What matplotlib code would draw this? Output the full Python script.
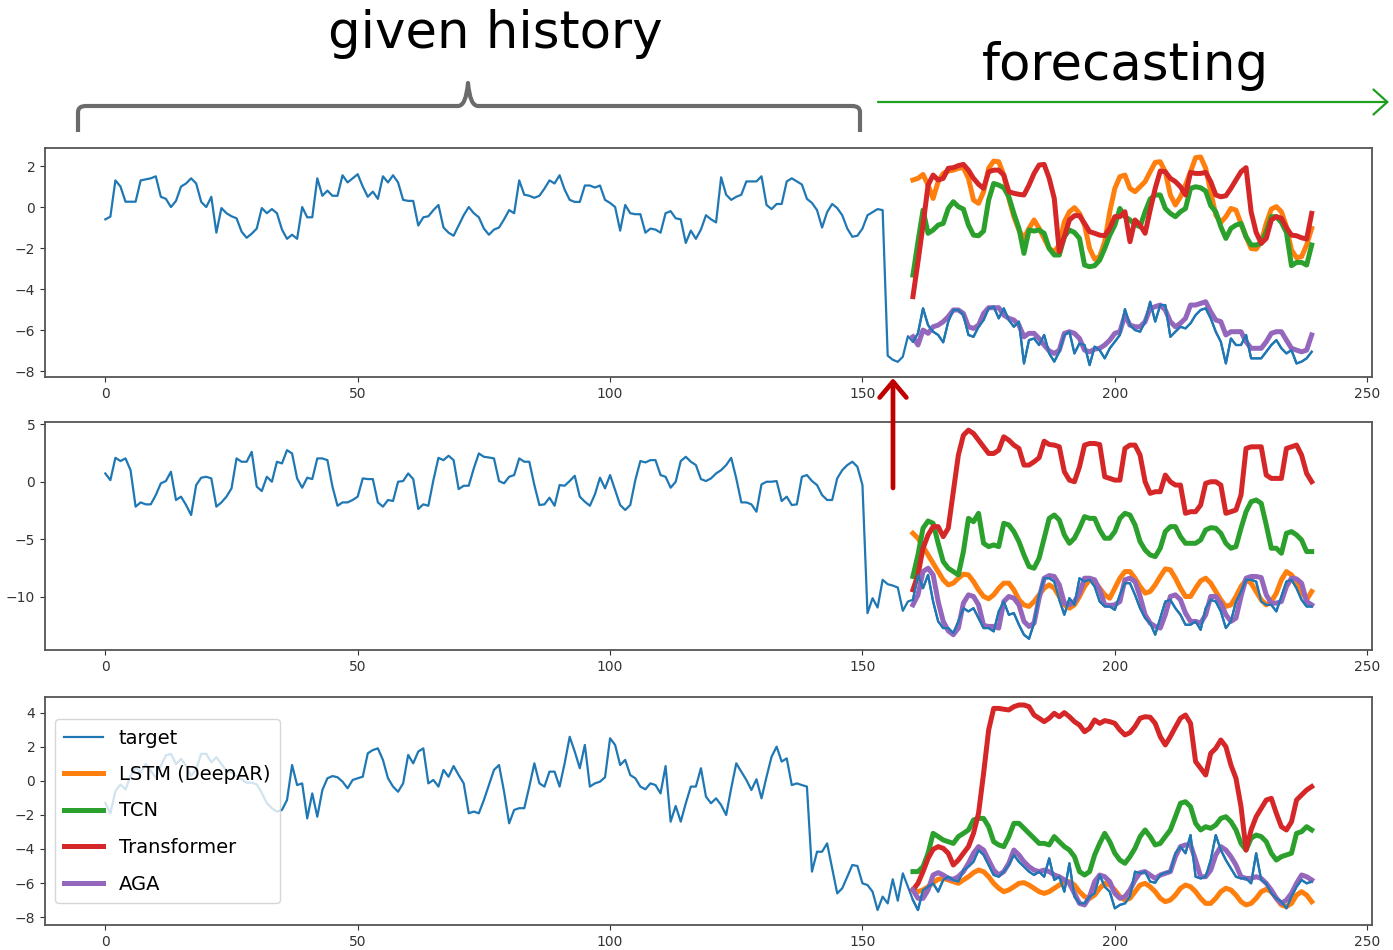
import numpy as np
import matplotlib
matplotlib.use("Agg")
import matplotlib.pyplot as plt
from matplotlib.path import Path
from matplotlib.patches import PathPatch

# ---------------- data ----------------
hist_x = np.arange(0, 240)
fc_x = np.arange(160, 240)

# Panel 1
target1 = [
    -0.6, -0.47, 1.3, 1.0, 0.26, 0.26, 0.26, 1.3, 1.35, 1.4, 1.5, 0.5, 0.4, 0.0, 0.3, 1.0, 1.15, 1.4, 1.15, 0.25,
    0.0, 0.5, -1.25, -0.05, -0.3, -0.45, -0.55, -1.2, -1.5, -1.3, -1.05, -0.05, -0.3, -0.1, -0.3, -1.1, -1.55, -1.35, -1.55, 0.0,
    -0.5, -0.5, 1.4, 0.55, 0.8, 0.55, 0.55, 1.55, 1.2, 1.4, 1.6, 1.0, 0.5, 0.75, 0.4, 1.5, 1.2, 1.55, 1.2, 0.35,
    0.3, 0.3, -0.9, -0.5, -0.45, -0.15, 0.1, -1.0, -1.25, -1.4, -0.9, -0.4, 0.0, -0.3, -0.5, -1.05, -1.35, -1.1, -1.0, -0.6,
    -0.15, -0.3, 1.3, 0.6, 0.55, 0.45, 0.55, 0.9, 1.3, 1.15, 1.55, 0.85, 0.35, 0.25, 0.25, 1.05, 1.05, 0.95, 1.05, 0.35,
    0.2, 0.0, -1.15, 0.1, -0.3, -0.35, -0.35, -1.25, -1.05, -1.1, -1.25, -0.3, -0.2, -0.55, -0.6, -1.75, -1.15, -1.55, -1.1, -0.4,
    -0.6, -0.75, 1.45, 0.6, 0.35, 0.5, 0.6, 1.25, 1.25, 1.25, 1.5, 0.1, -0.1, 0.15, 0.15, 1.25, 1.4, 1.25, 1.1, 0.4,
    0.2, -0.15, -1.0, -0.25, 0.15, -0.05, -0.4, -1.05, -1.45, -1.4, -1.05, -0.4, -0.25, -0.1, -0.15, -7.25, -7.45, -7.55, -7.3, -6.3,
    -6.57, -6.16, -4.94, -5.76, -6.08, -6.24, -6.6, -5.59, -5.02, -5.02, -5.27, -6.24, -6.33, -5.84, -5.51, -4.94, -4.86, -5.43, -4.94, -5.51,
    -5.84, -5.59, -7.63, -6.49, -6.41, -6.73, -6.24, -7.14, -7.54, -7.06, -6.24, -6.08, -7.14, -6.65, -6.73, -7.71, -6.81, -6.98, -7.38, -6.89,
    -6.57, -6.24, -4.98, -5.76, -6.0, -6.08, -5.59, -4.62, -5.59, -4.78, -4.78, -6.33, -6.08, -5.84, -5.92, -5.67, -5.27, -5.02, -4.94, -5.43,
    -6.08, -6.57, -7.63, -6.41, -6.73, -6.73, -6.24, -7.38, -7.38, -7.38, -7.06, -6.73, -6.49, -6.89, -7.14, -6.98, -7.63, -7.54, -7.38, -7.06,
]
lstm1 = [
    1.32, 1.40, 1.59, 1.07, 0.42, 1.24, 1.64, 1.76, 1.80, 1.89, 1.92, 1.40, 0.34, 0.18, 0.75, 1.89, 2.24, 2.21, 1.56, 0.42,
    -0.47, -1.12, -1.53, -1.04, -0.63, -1.04, -1.53, -2.02, -2.18, -1.85, -0.72, -0.23, -0.03, -0.31, -0.88, -2.02, -2.54, -2.42, -1.69, -0.23,
    0.91, 1.48, 1.56, 0.91, 0.75, 0.99, 1.24, 1.72, 2.18, 2.21, 1.72, 0.59, 0.10, 0.50, 1.07, 1.72, 2.41, 2.44, 1.89, 0.75,
    -0.39, -0.75, -0.47, -0.07, -0.15, -0.80, -1.45, -2.02, -2.05, -1.69, -0.80, -0.10, 0.02, -0.23, -0.96, -2.10, -2.47, -2.42, -1.85, -1.04,
]
tcn1 = [
    -3.32, -1.69, -0.15, -1.28, -1.12, -0.88, -0.80, -0.07, 0.26, 0.02, -0.10, -0.88, -1.37, -1.40, -1.17, 0.34, 1.15, 1.07, 0.94, 0.50,
    -0.31, -1.04, -2.26, -1.12, -1.17, -1.12, -1.28, -2.02, -2.34, -2.34, -1.45, -1.12, -1.24, -1.53, -2.83, -2.91, -2.86, -2.59, -2.02, -1.37,
    -0.88, -0.07, -0.47, -0.63, -0.85, -0.96, -0.23, 0.39, 0.59, 0.59, -0.07, -0.31, -0.47, -0.23, -0.07, 0.91, 0.99, 0.94, 0.78, 0.07,
    -0.23, -0.96, -1.53, -1.04, -0.88, -0.80, -1.45, -1.85, -1.85, -1.77, -1.20, -0.47, -0.47, -0.75, -1.24, -2.86, -2.70, -2.70, -2.83, -1.85,
]
trans1 = [
    -4.37, -2.67, -0.88, 1.07, 1.56, 1.32, 1.40, 1.89, 1.92, 2.02, 2.08, 1.80, 1.40, 1.11, 0.91, 1.72, 1.80, 1.80, 1.56, 0.75,
    0.67, 0.62, 0.59, 1.07, 1.64, 2.05, 2.08, 1.40, 0.42, -2.18, -1.45, -0.63, -0.42, -0.42, -0.80, -1.20, -1.28, -1.37, -1.40, -1.04,
    -0.47, -0.47, -0.23, -1.69, -0.63, -0.88, -1.28, -0.15, 0.91, 1.76, 1.72, 1.40, 1.24, 0.99, 0.59, 1.69, 1.64, 1.64, 1.69, 1.24,
    0.59, 0.50, 0.55, 0.91, 1.32, 1.72, 1.92, -0.23, -1.24, -1.77, -1.53, -0.63, -0.47, -0.55, -1.01, -1.37, -1.40, -1.50, -1.56, -0.31,
]
aga1 = [
    -6.33, -6.73, -6.0, -6.16, -5.84, -5.76, -5.59, -5.35, -5.02, -5.02, -5.19, -5.84, -5.92, -5.76, -5.19, -4.91, -4.91, -4.91, -5.27, -5.43,
    -5.51, -5.76, -6.33, -6.16, -6.16, -6.41, -6.73, -7.02, -7.14, -6.98, -6.16, -6.08, -6.16, -6.41, -6.98, -7.06, -6.93, -6.89, -6.73, -6.49,
    -6.16, -6.08, -5.27, -5.76, -5.84, -5.84, -5.59, -4.94, -4.86, -4.78, -5.02, -5.59, -5.84, -5.67, -5.43, -4.78, -4.78, -4.70, -4.62, -5.11,
    -5.51, -5.59, -6.24, -6.08, -6.08, -6.08, -6.57, -6.89, -6.89, -6.89, -6.57, -6.16, -6.08, -6.08, -6.49, -6.89, -6.98, -7.06, -6.98, -6.24,
]

# Panel 2
target2 = [
    0.72, 0.14, 2.08, 1.8, 2.03, 1.0, -2.17, -1.8, -1.97, -1.97, -1.16, -0.14, 0.06, 0.87, -1.59, -1.3, -2.03, -2.9, -0.29, 0.35,
    0.43, 0.29, -2.17, -1.8, -1.3, -0.58, 2.03, 1.74, 1.74, 2.6, -0.43, -0.81, 0.43, 0.0, 1.74, 1.59, 2.75, 2.46, 0.29, -0.52,
    0.35, 0.23, 2.03, 2.03, 1.88, -0.43, -2.09, -1.8, -1.8, -1.59, -1.3, 0.29, 0.23, 0.23, -1.8, -2.17, -1.59, -1.68, 0.0, 0.06,
    0.72, 0.23, -2.37, -1.97, -2.09, 0.14, 2.08, 1.88, 2.26, 1.88, -0.64, -0.35, -0.35, 1.16, 2.46, 2.17, 2.11, 2.03, 0.06, -0.14,
    0.43, 0.58, 2.03, 1.74, 1.74, -0.29, -2.03, -1.97, -1.39, -2.09, -0.29, -0.35, 0.06, 0.52, -1.3, -1.74, -2.09, -1.1, 0.35, -0.58,
    0.58, -0.72, -2.03, -2.46, -2.03, 0.14, 1.8, 1.68, 1.88, 1.88, 0.58, 0.43, -0.52, 0.0, 1.8, 2.17, 1.74, 1.45, 0.23, 0.06,
    0.29, 0.72, 1.01, 1.45, 2.08, 0.29, -1.8, -1.8, -1.97, -2.61, -0.23, 0.0, 0.0, 0.06, -1.68, -1.3, -2.03, -1.97, 0.43, 0.58,
    0.06, -0.29, -1.16, -1.59, -1.59, 0.29, 1.01, 1.45, 1.74, 1.3, -0.29, -11.44, -10.14, -10.95, -8.54, -8.92, -9.04, -9.21, -11.24, -10.43,
    -10.28, -8.11, -9.27, -8.11, -10.43, -12.16, -12.74, -12.74, -13.18, -12.16, -11.01, -11.29, -11.01, -11.87, -12.74, -12.74, -13.03, -11.29, -10.43, -11.58,
    -11.44, -12.45, -13.32, -13.67, -12.31, -9.85, -8.40, -8.40, -8.69, -10.28, -11.58, -10.14, -10.72, -8.40, -8.69, -8.54, -9.12, -10.43, -10.86, -10.86,
    -11.15, -9.85, -8.83, -8.83, -9.85, -11.01, -11.87, -12.31, -13.32, -11.87, -10.43, -10.28, -11.01, -11.58, -12.45, -12.45, -12.16, -12.89, -11.01, -10.28,
    -10.43, -11.29, -12.74, -12.16, -10.43, -9.56, -8.54, -8.54, -8.69, -10.43, -10.72, -10.72, -11.29, -9.99, -8.69, -8.54, -9.27, -10.28, -10.86, -10.86,
]
lstm2 = [
    -4.49, -4.92, -5.65, -6.37, -7.10, -7.82, -8.54, -8.98, -8.83, -8.40, -8.05, -8.11, -8.69, -9.41, -9.99, -10.19, -9.85, -9.27, -8.83, -8.83,
    -9.41, -10.28, -10.72, -10.86, -10.43, -9.85, -9.27, -8.98, -9.27, -9.99, -10.72, -11.01, -10.72, -9.99, -9.12, -8.54, -8.69, -9.27, -9.85, -10.14,
    -9.27, -8.40, -7.82, -7.82, -8.40, -9.12, -9.70, -9.56, -8.98, -8.25, -7.59, -7.67, -8.40, -9.27, -9.99, -9.99, -9.27, -8.63, -8.40, -8.83,
    -9.56, -10.28, -10.86, -10.72, -9.99, -9.12, -8.54, -8.83, -9.56, -10.28, -10.72, -10.43, -9.70, -8.54, -7.82, -8.11, -8.69, -9.56, -10.28, -9.56,
]
tcn2 = [
    -8.25, -6.37, -4.05, -3.42, -3.62, -5.36, -6.95, -7.53, -7.82, -8.11, -6.08, -3.19, -3.48, -2.75, -5.36, -5.65, -5.50, -5.65, -3.62, -3.76,
    -4.34, -5.21, -6.37, -7.38, -7.53, -6.66, -4.92, -3.19, -2.90, -3.33, -4.63, -5.36, -4.92, -4.05, -3.04, -3.19, -3.19, -4.20, -4.92, -4.92,
    -4.34, -3.19, -2.75, -2.90, -3.76, -5.21, -5.94, -6.37, -6.52, -5.79, -4.34, -3.91, -3.91, -4.78, -5.36, -5.36, -5.36, -5.07, -4.20, -4.00,
    -4.05, -4.49, -5.36, -5.79, -5.65, -4.05, -2.61, -1.74, -1.59, -1.88, -3.76, -5.79, -5.79, -6.23, -4.49, -4.34, -4.63, -5.07, -6.08, -6.08,
]
trans2 = [
    -9.41, -8.11, -5.79, -4.63, -3.91, -3.91, -4.78, -4.05, -0.87, 2.32, 4.05, 4.49, 4.20, 3.62, 3.04, 2.46, 2.46, 2.75, 3.91, 3.62,
    3.19, 2.90, 1.45, 1.45, 1.74, 2.09, 3.53, 3.24, 3.19, 3.04, 0.87, 0.14, 0.0, 1.30, 3.19, 3.33, 3.33, 3.24, 0.43, 0.29,
    0.14, 0.14, 2.90, 3.19, 3.19, 2.32, 0.0, -1.01, -0.87, -0.87, 0.58, 0.0, -0.29, -0.29, -2.75, -2.61, -2.61, -2.03, -0.14, 0.0,
    0.0, -0.29, -2.75, -2.61, -2.46, -1.16, 2.90, 3.04, 3.04, 3.04, 0.58, 0.29, 0.29, 0.29, 2.90, 3.04, 3.19, 2.32, 0.72, 0.0,
]
aga2 = [
    -10.72, -9.85, -7.82, -7.53, -8.11, -10.43, -12.16, -12.98, -13.32, -12.74, -10.57, -9.85, -9.99, -10.72, -12.51, -12.60, -12.60, -12.74, -10.43, -9.99,
    -10.14, -10.72, -12.16, -12.60, -12.31, -10.14, -8.40, -8.17, -8.25, -8.98, -10.57, -10.72, -10.43, -9.70, -8.40, -8.40, -8.54, -9.41, -10.72, -10.77,
    -10.72, -10.43, -8.54, -8.40, -8.69, -9.99, -11.58, -12.31, -12.60, -12.74, -11.58, -9.99, -9.85, -10.28, -11.44, -12.16, -12.16, -12.31, -11.58, -9.99,
    -9.99, -10.57, -11.58, -12.16, -11.87, -9.99, -8.40, -8.25, -8.25, -8.34, -9.85, -10.57, -10.57, -10.43, -9.12, -8.40, -8.46, -8.83, -10.43, -10.72,
]

# Panel 3
target3 = [
    -1.3, -1.9, -0.6, -0.2, -0.5, 0.3, 0.8, 0.5, 1.0, 0.6, 0.2, 0.9, 1.5, 1.6, 1.0, 1.3, 0.9, 0.3, 0.7, 1.6,
    1.6, 1.1, 1.4, 1.0, 0.6, 0.5, 0.3, 0.1, -0.1, -0.1, -0.2, -0.7, -1.3, -1.6, -1.8, -1.7, -1.12, 0.94, -0.24, -0.14,
    -2.2, -0.73, -2.1, -0.53, 0.16, 0.29, 0.22, -0.04, -0.43, 0.06, 0.16, 0.25, 1.63, 1.82, 1.92, 1.24, 0.16, -0.33, -0.63, -0.14,
    1.53, 1.04, 1.73, 1.92, -0.14, 0.06, -0.33, 0.65, 0.25, 0.88, 0.35, -0.14, -1.9, -1.8, -1.9, -1.12, -0.24, 0.65, 0.94, -0.63,
    -2.49, -1.7, -1.6, -1.6, -0.33, 1.04, -0.14, -0.33, 0.55, 0.55, -0.33, 1.04, 2.6, 1.73, 0.75, 2.12, -0.33, -0.14, -0.04, 0.22,
    2.51, 2.12, 0.94, 1.24, 0.35, 0.16, -0.33, -0.49, -0.14, -0.24, -0.73, 0.88, -2.39, -1.47, -2.39, -1.31, -0.33, -0.33, 0.75, -0.92,
    -1.31, -1.02, -1.41, -2.0, -0.43, 1.04, 0.55, 0.06, -0.53, 0.1, -1.02, 0.25, 1.43, 2.02, 1.14, 1.33, -0.24, -0.14, -0.24, -0.33,
    -5.33, -4.16, -4.16, -3.67, -5.14, -6.61, -6.31, -5.63, -4.94, -5.0, -6.02, -6.12, -6.51, -7.59, -6.8, -7.2, -5.78, -7.04, -5.43, -6.22,
    -7.00, -7.59, -6.41, -6.22, -6.02, -6.51, -5.82, -5.63, -5.82, -5.92, -5.24, -5.04, -4.75, -4.06, -4.35, -4.94, -5.53, -5.63, -5.33, -4.94,
    -4.35, -4.75, -5.04, -5.33, -5.53, -5.33, -5.63, -4.55, -5.82, -5.63, -6.51, -4.84, -6.80, -7.20, -7.20, -6.80, -6.61, -5.53, -6.22, -6.51,
    -7.49, -7.29, -7.20, -6.80, -5.33, -5.43, -5.33, -5.92, -5.98, -5.53, -5.39, -5.33, -4.25, -3.86, -4.25, -3.18, -5.63, -5.73, -5.63, -4.65,
    -3.18, -4.06, -4.65, -5.14, -5.63, -5.73, -5.73, -6.02, -4.25, -5.82, -6.02, -6.61, -6.90, -7.10, -7.49, -6.80, -6.22, -5.82, -6.02, -5.92,
]
lstm3 = [
    -6.41, -6.51, -6.41, -6.22, -5.98, -5.78, -5.73, -5.82, -5.92, -6.02, -5.82, -5.63, -5.39, -5.24, -5.33, -5.63, -6.02, -6.31, -6.51, -6.41,
    -6.22, -6.02, -5.98, -6.12, -6.31, -6.51, -6.61, -6.51, -6.31, -6.12, -5.92, -5.92, -6.12, -6.51, -6.80, -6.90, -6.71, -6.31, -6.02, -6.12,
    -6.41, -6.80, -7.00, -6.90, -6.51, -6.12, -6.02, -6.22, -6.51, -6.90, -7.10, -7.00, -6.71, -6.31, -6.12, -6.22, -6.51, -6.90, -7.20, -7.20,
    -6.90, -6.51, -6.31, -6.41, -6.71, -7.10, -7.29, -7.20, -6.90, -6.51, -6.37, -6.51, -6.90, -7.29, -7.39, -7.20, -6.71, -6.51, -6.71, -7.10,
]
tcn3 = [
    -5.33, -5.33, -5.04, -4.25, -3.08, -3.27, -3.47, -3.57, -3.67, -3.27, -3.08, -2.88, -2.29, -2.20, -2.20, -2.69, -3.57, -3.76, -3.86, -3.27,
    -2.49, -2.49, -2.78, -3.08, -3.37, -3.67, -3.67, -3.76, -3.27, -3.57, -3.86, -4.06, -4.45, -5.33, -5.53, -5.33, -4.35, -3.67, -3.08, -3.57,
    -4.25, -4.65, -4.84, -4.45, -3.96, -3.27, -2.88, -3.27, -3.76, -3.67, -3.27, -2.88, -2.10, -1.31, -1.22, -1.51, -2.49, -2.88, -2.69, -2.78,
    -2.59, -2.20, -2.10, -2.39, -2.88, -3.67, -4.06, -3.37, -3.18, -3.27, -3.57, -4.25, -4.65, -4.45, -4.35, -4.25, -3.08, -2.98, -2.69, -2.88,
]
trans3 = [
    -6.41, -6.02, -5.33, -4.55, -4.02, -3.86, -3.96, -4.25, -4.94, -4.65, -4.25, -3.86, -3.08, -1.90, 0.45, 3.0, 4.27, 4.27, 4.22, 4.18,
    4.37, 4.47, 4.47, 4.37, 3.88, 3.69, 3.49, 3.69, 3.98, 3.78, 4.02, 3.78, 3.49, 3.29, 2.90, 3.10, 3.59, 3.39, 3.55, 3.49,
    3.39, 3.0, 2.71, 2.84, 3.20, 3.69, 3.78, 3.75, 3.39, 2.61, 2.12, 2.61, 3.16, 3.69, 3.88, 3.39, 1.14, 0.75, 0.35, 1.63,
    1.92, 2.41, 2.02, 0.94, 0.16, -1.51, -4.06, -2.88, -2.10, -1.61, -1.12, -1.02, -1.90, -2.69, -2.88, -2.40, -1.12, -0.82, -0.53, -0.33,
]
aga3 = [
    -6.41, -6.90, -6.90, -6.41, -5.53, -5.39, -5.53, -5.73, -5.78, -5.63, -5.33, -4.84, -4.25, -3.86, -4.06, -4.65, -5.24, -5.53, -5.33, -4.84,
    -4.06, -4.35, -4.75, -5.04, -5.24, -5.33, -5.24, -5.33, -5.53, -5.63, -5.82, -6.02, -6.61, -7.20, -7.29, -6.80, -5.92, -5.53, -5.63, -5.92,
    -6.61, -6.90, -6.80, -6.41, -5.82, -5.39, -5.33, -5.53, -5.73, -5.53, -5.43, -5.33, -4.45, -3.86, -3.76, -3.76, -4.65, -5.63, -5.63, -5.24,
    -4.35, -3.86, -4.06, -4.45, -4.94, -5.63, -5.73, -5.73, -5.63, -5.73, -6.02, -6.41, -6.90, -7.20, -7.00, -6.61, -6.02, -5.53, -5.63, -5.82,
]

series_labels = ["target", "LSTM (DeepAR)", "TCN", "Transformer", "AGA"]
x_ticks = [0, 50, 100, 150, 200, 250]
y_ticks = [[-8, -6, -4, -2, 0, 2], [-10, -5, 0, 5], [-8, -6, -4, -2, 0, 2, 4]]
y_limits = [(-8.29, 2.88), (-14.65, 5.2), (-8.47, 4.94)]

panels = [
    (target1, lstm1, tcn1, trans1, aga1),
    (target2, lstm2, tcn2, trans2, aga2),
    (target3, lstm3, tcn3, trans3, aga3),
]

colors = ["#1f77b4", "#ff7f0e", "#2ca02c", "#d62728", "#9467bd"]

# ---------------- figure ----------------
W, H = 1393, 950
fig = plt.figure(figsize=(W / 100, H / 100), dpi=100)


def fx(px):
    return px / W


def fy(py):
    return 1 - py / H


axes_px = [(148, 377), (422, 650), (697, 925)]
for i, ((top, bot), data) in enumerate(zip(axes_px, panels)):
    ax = fig.add_axes([fx(45), fy(bot), fx(1372) - fx(45), (bot - top) / H])
    tgt, lstm, tcn, trans, aga = data
    ax.plot(hist_x, tgt, color=colors[0], lw=1.6, label=series_labels[0], zorder=2)
    ax.plot(fc_x, lstm, color=colors[1], lw=3.6, label=series_labels[1], zorder=3)
    ax.plot(fc_x, tcn, color=colors[2], lw=3.6, label=series_labels[2], zorder=3)
    ax.plot(fc_x, trans, color=colors[3], lw=3.6, label=series_labels[3], zorder=3)
    ax.plot(fc_x, aga, color=colors[4], lw=3.6, label=series_labels[4], zorder=3)
    ax.plot(fc_x, tgt[160:], color=colors[0], lw=1.6, zorder=4)
    ax.set_xlim(-11.95, 250.95)
    ax.set_ylim(*y_limits[i])
    ax.set_xticks(x_ticks)
    ax.set_yticks(y_ticks[i])
    ax.tick_params(labelsize=10, colors="#333333", length=3.5)
    for s in ax.spines.values():
        s.set_color("#555555")
        s.set_linewidth(1.3)
    if i == 2:
        ax.legend(loc="center left", fontsize=14, labelspacing=0.9,
                  handlelength=2.0, borderaxespad=0.5, borderpad=0.5)

# ---------------- annotations ----------------
fig.text(fx(495), fy(34), "given history", ha="center", va="center",
         fontsize=37, family="DejaVu Sans", color="black")
fig.text(fx(1125), fy(66), "forecasting", ha="center", va="center",
         fontsize=37, family="DejaVu Sans", color="black")

# curly brace
bp = [(78, 132), (78, 112), (78, 106), (86, 106), (458, 106), (466, 106), (468, 83),
      (470, 106), (478, 106), (852, 106), (860, 106), (860, 112), (860, 132)]
codes = [Path.MOVETO, Path.LINETO, Path.CURVE3, Path.CURVE3, Path.LINETO, Path.CURVE3, Path.CURVE3,
         Path.CURVE3, Path.CURVE3, Path.LINETO, Path.CURVE3, Path.CURVE3, Path.LINETO]
brace = Path([(fx(a), fy(b)) for a, b in bp], codes)
fig.patches.append(PathPatch(brace, transform=fig.transFigure, fill=False,
                             edgecolor="#6b6b6b", lw=3.0, capstyle="butt", joinstyle="round"))

# green forecasting arrow
fig.add_artist(matplotlib.patches.FancyArrowPatch(
    (fx(878), fy(102)), (fx(1389), fy(102)), transform=fig.transFigure,
    arrowstyle="->,head_length=0.5,head_width=0.45", mutation_scale=20,
    color="#1f9e1f", lw=1.6, shrinkA=0, shrinkB=0))

# red arrow
fig.add_artist(matplotlib.patches.FancyArrowPatch(
    (fx(893), fy(488)), (fx(893), fy(378)), transform=fig.transFigure,
    arrowstyle="->,head_length=0.38,head_width=0.32", mutation_scale=30,
    color="#c00000", lw=3.4, shrinkA=0, shrinkB=0))

fig.savefig("out.png", dpi=100)
